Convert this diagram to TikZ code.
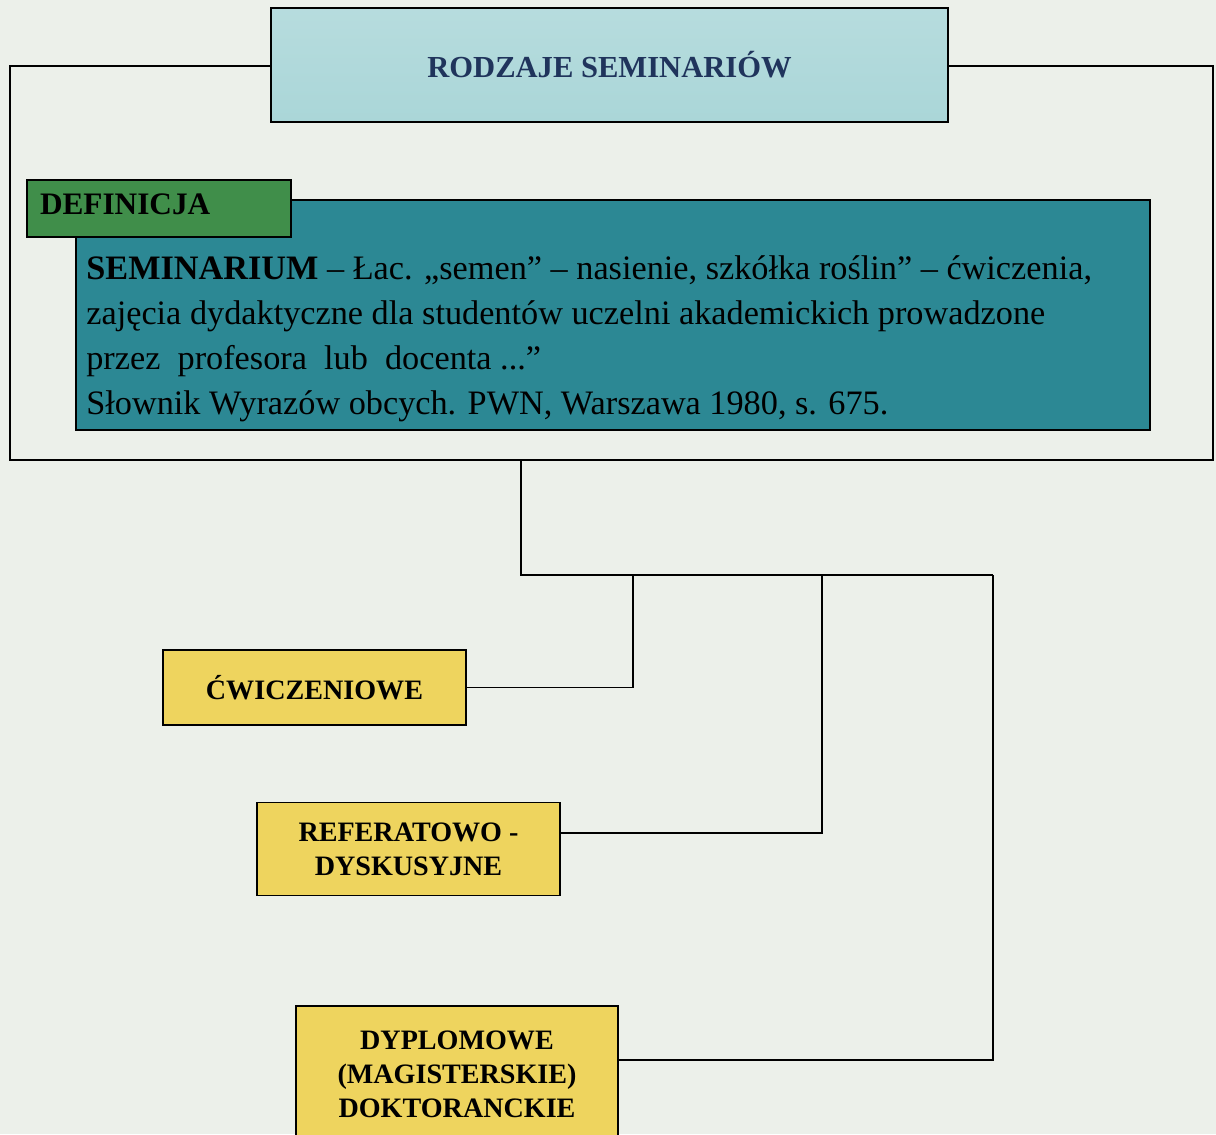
\documentclass[tikz,border=0pt]{standalone}
\usepackage{fontspec}
\setmainfont{Liberation Serif}
\usetikzlibrary{positioning}

\definecolor{paper}{RGB}{236,240,234}
\definecolor{aqua}{RGB}{170,214,216}
\definecolor{navy}{RGB}{32,52,92}
\definecolor{tealbg}{RGB}{44,136,148}
\definecolor{grbg}{RGB}{64,142,74}
\definecolor{yelbg}{RGB}{238,212,94}

\begin{document}
\begin{tikzpicture}[
						x=0.02cm, y=-0.02cm,
						line/.style = {draw, line width=0.8pt},
						titlebox/.style = {line, top color=aqua!85!white, bottom color=aqua, rectangle, minimum width=13.54cm, minimum height=2.28cm},
						tbox/.style = {line, fill=tealbg, rectangle, minimum width=21.48cm, minimum height=4.6cm},
						gbox/.style = {line, fill=grbg, rectangle, minimum width=5.28cm, minimum height=1.14cm, text width=4.76cm, align=left, inner xsep=0.26cm, font=\fontsize{17.8}{20}\selectfont\bfseries},
						ybox/.style = {line, fill=yelbg, rectangle, minimum width=6.06cm, align=center, font=\fontsize{16}{19.3}\selectfont\bfseries}
					]
\useasboundingbox (0,0) rectangle (1216,1134);
\clip (0,0) rectangle (1216,1134);
\fill[paper] (0,0) rectangle (1216,1134);

% frame and title
\node[line, rectangle, minimum width=24.06cm, minimum height=7.88cm] (frame) at (611.5,263) {};
\node[titlebox, text=navy, font=\fontsize{17.4}{20}\selectfont\bfseries] (title) at (609.5,65) {RODZAJE SEMINARIÓW};

% definition
\node[tbox] (def) at (613,315) {};
\node[gbox, text depth=0.16cm] (defhead) at (159,208.5) {DEFINICJA};
\node[anchor=north west, align=left, inner sep=0, font=\fontsize{19.5}{25.6}\selectfont] (deftext) at (86,255)
  {\textbf{SEMINARIUM} – Łac. „semen” – nasienie, szkółka roślin” – ćwiczenia,\\
   zajęcia dydaktyczne dla studentów uczelni akademickich prowadzone\\
   przez\ \ profesora\ \ lub\ \ docenta ...”\\
   Słownik Wyrazów obcych. PWN, Warszawa 1980, s. 675.};

% kinds
\node[ybox, minimum height=1.5cm] (cw) at (314.5,687.5) {ĆWICZENIOWE};
\node[ybox, minimum height=1.86cm] (ref) at (408.5,849) {REFERATOWO -\\DYSKUSYJNE};
\node[ybox, minimum width=6.44cm, minimum height=2.72cm] (dyp) at (457,1074) {DYPLOMOWE\\(MAGISTERSKIE)\\DOKTORANCKIE};

\coordinate (hub) at (521,575);
\coordinate (tap1) at (633,575);
\coordinate (tap2) at (822,575);
\coordinate (tap3) at (993,575);

\draw[line] (frame.south -| hub) -- (hub) -- (tap3);
\draw[line] (cw.east) -| (tap1);
\draw[line] ([yshift=0.32cm]ref.east) -| (tap2);
\draw[line] ([yshift=0.28cm]dyp.east) -| (tap3);
\end{tikzpicture}
\end{document}
